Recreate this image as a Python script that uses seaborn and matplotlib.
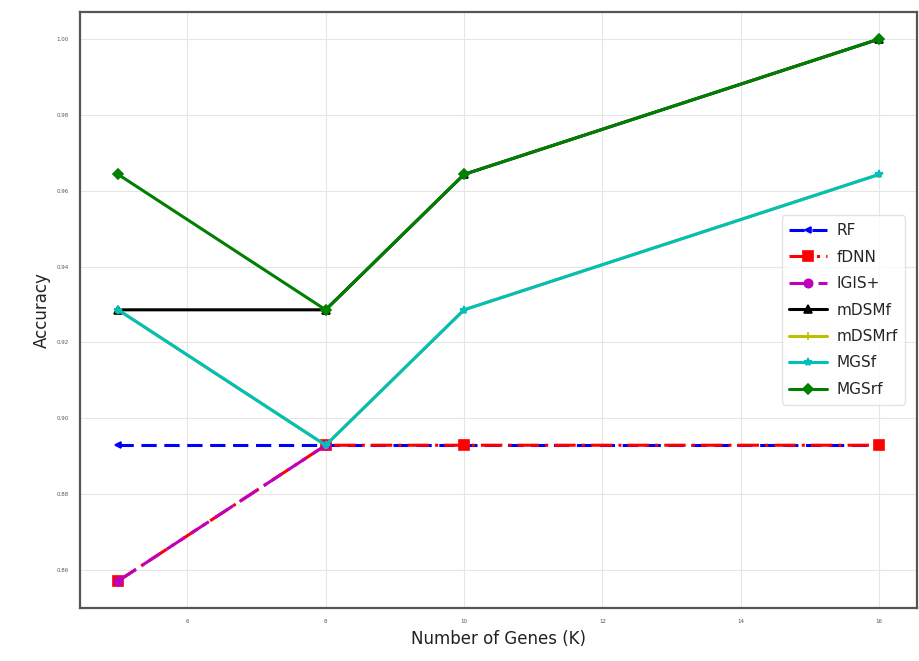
import matplotlib
matplotlib.use("Agg")
import matplotlib.pyplot as plt
import seaborn as sns
import pandas as pd

# Accuracy of each gene-selection method versus number of selected genes
genes = [5, 8, 10, 16]
rf = [0.8929, 0.8929, 0.8929, 0.8929]
fdnn = [0.8571, 0.8929, 0.8929, 0.8929]
igis_genes = [5, 8]
igis = [0.8571, 0.8929]
mdsmf = [0.9286, 0.9286, 0.9643, 1.0]
mdsmrf = [0.9286, 0.8929, 0.9286, 0.9643]
mgsf = [0.9286, 0.8929, 0.9286, 0.9643]
mgsrf = [0.9643, 0.9286, 0.9643, 1.0]

series = [
    ("RF", genes, rf, "blue", (0, (5, 2.5)), "<", 4),
    ("fDNN", genes, fdnn, "red", (0, (7, 2, 1, 2)), "s", 7),
    ("IGIS+", igis_genes, igis, "m", (0, (7, 2.5)), "o", 6),
    ("mDSMf", genes, mdsmf, "black", "-", "^", 6),
    ("mDSMrf", genes, mdsmrf, "y", "-", "+", 6),
    ("MGSf", genes, mgsf, "c", "-", "*", 6),
    ("MGSrf", genes, mgsrf, "green", "-", "D", 5.5),
]

sns.set_style("whitegrid")
fig = plt.figure(figsize=(9.2, 6.61), dpi=100)
ax = fig.add_axes([0.087, 0.080, 0.910, 0.902])

for name, xs, ys, color, ls, marker, ms in series:
    df = pd.DataFrame({"K": xs, "Accuracy": ys})
    sns.lineplot(data=df, x="K", y="Accuracy", ax=ax, color=color, linestyle=ls,
                 marker=marker, markersize=ms, linewidth=2.2, label=name,
                 markeredgecolor=color, markeredgewidth=1.2)

ax.set_xticks([6, 8, 10, 12, 14, 16])
ax.set_yticks([0.86, 0.88, 0.90, 0.92, 0.94, 0.96, 0.98, 1.00])
ax.set_yticklabels(["0.86", "0.88", "0.90", "0.92", "0.94", "0.96", "0.98", "1.00"])
ax.tick_params(axis="both", labelsize=4, colors="#555555", length=0, pad=8)
ax.set_xlabel("Number of Genes (K)", fontsize=12, color="#222222")
ax.set_ylabel("Accuracy", fontsize=12, color="#222222")
ax.grid(True, color="#e6e6e6", linewidth=0.8)
for sp in ax.spines.values():
    sp.set_color("#555555")
    sp.set_linewidth(1.6)

leg = ax.legend(loc="center right", fontsize=11, frameon=True, handlelength=2.5,
                borderpad=0.5, labelspacing=0.75, handletextpad=0.6,
                bbox_to_anchor=(0.995, 0.5))
leg.get_frame().set_edgecolor("#dddddd")

fig.savefig("out.png", dpi=100)
